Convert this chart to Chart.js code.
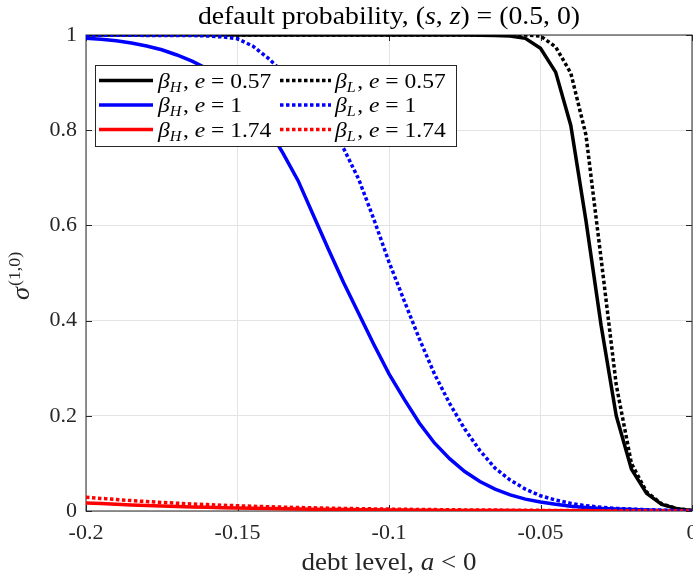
<!DOCTYPE html>
<html><head><meta charset="utf-8">
<script src="https://cdn.jsdelivr.net/npm/chart.js@4/dist/chart.umd.min.js"></script>
<style>html,body{margin:0;padding:0;background:#fff;} canvas{display:block;}</style>
</head><body>
<canvas id="c" width="693" height="577"></canvas>
<script>
// ---- data ----
const debtLevels = [-0.2,-0.195,-0.19,-0.185,-0.18,-0.175,-0.17,-0.165,-0.16,-0.155,
  -0.15,-0.145,-0.14,-0.135,-0.13,-0.125,-0.12,-0.115,-0.11,-0.105,
  -0.1,-0.095,-0.09,-0.085,-0.08,-0.075,-0.07,-0.065,-0.06,-0.055,
  -0.05,-0.045,-0.04,-0.035,-0.03,-0.025,-0.02,-0.015,-0.01,-0.005,0];

const sigmaHighE057 = [1,1,1,1,1,1,1,1,1,1, 1,1,1,1,1,1,1,1,1,1, 1,1,1,1,1,1,0.9995,0.999,0.998,0.993,
  0.972,0.922,0.81,0.61,0.39,0.2,0.088,0.037,0.014,0.005,0.001];
const sigmaHighE1 = [0.993,0.991,0.988,0.983,0.977,0.969,0.958,0.945,0.929,0.908,
  0.881,0.847,0.805,0.752,0.694,0.622,0.55,0.48,0.415,0.35,
  0.288,0.235,0.185,0.143,0.11,0.083,0.062,0.046,0.034,0.025,
  0.019,0.014,0.01,0.0075,0.0055,0.004,0.003,0.002,0.0012,0.0006,0.0002];
const sigmaHighE174 = [0.017,0.0155,0.014,0.0128,0.0116,0.0105,0.0095,0.0086,0.0078,0.007,
  0.0063,0.0057,0.0051,0.0046,0.0041,0.0037,0.0033,0.003,0.0027,0.0024,
  0.0021,0.0019,0.0017,0.0015,0.0013,0.0012,0.001,0.0009,0.0008,0.0007,
  0.0006,0.0005,0.0004,0.0003,0.00025,0.0002,0.00015,0.0001,0.00006,0.00003,0];
const sigmaLowE057 = [1,1,1,1,1,1,1,1,1,1, 1,1,1,1,1,1,1,1,1,1, 1,1,1,1,1,1,1,1,1,1,
  0.998,0.975,0.92,0.79,0.53,0.265,0.1,0.04,0.015,0.005,0.001];
const sigmaLowE1 = [0.9995,0.9995,0.9995,0.9995,0.999,0.999,0.999,0.999,0.998,0.996,
  0.992,0.977,0.952,0.922,0.889,0.852,0.81,0.762,0.697,0.613,
  0.523,0.442,0.362,0.288,0.226,0.172,0.127,0.09,0.065,0.046,
  0.032,0.023,0.016,0.011,0.008,0.0055,0.004,0.0028,0.0018,0.001,0.0003];
const sigmaLowE174 = [0.029,0.0265,0.024,0.0218,0.0198,0.018,0.0163,0.0148,0.0134,0.0121,
  0.011,0.0099,0.009,0.0081,0.0073,0.0066,0.006,0.0054,0.0049,0.0044,
  0.004,0.0036,0.0032,0.0029,0.0026,0.0023,0.0021,0.0019,0.0017,0.0015,
  0.0013,0.0011,0.001,0.0008,0.0007,0.0006,0.0005,0.0004,0.0003,0.0001,0];

const betaSubscripts = ['H','H','H','L','L','L'];
const eValues = ['0.57','1','1.74','0.57','1','1.74'];
const xTickLabels = ['-0.2','-0.15','-0.1','-0.05','0'];
const yTickLabels = ['0','0.2','0.4','0.6','0.8','1'];

// ---- styling ----
const SERIF = '"Liberation Serif", "Times New Roman", serif';
const AXIS_COLOR = '#262626';
const seriesValues = [sigmaHighE057, sigmaHighE1, sigmaHighE174, sigmaLowE057, sigmaLowE1, sigmaLowE174];
const seriesColors = ['#000000','#0000ff','#ff0000','#000000','#0000ff','#ff0000'];
const DOT = [3.5, 2.5];

const datasets = seriesValues.map((vals, i) => ({
  label: 'β' + betaSubscripts[i] + ', e = ' + eValues[i],
  data: debtLevels.map((a, k) => ({x: a, y: vals[k]})),
  borderColor: seriesColors[i],
  backgroundColor: seriesColors[i],
  borderWidth: 3.5,
  borderDash: i >= 3 ? DOT : [],
  borderCapStyle: 'butt',
  borderJoinStyle: 'miter',
  pointRadius: 0,
  tension: 0,
  fill: false,
  order: 6 - i
}));

// draws a run of roman/italic text pieces, optionally widened horizontally
function drawRich(ctx, segs, x, y, align, sx) {
  sx = sx || 1;
  let total = 0;
  const ms = segs.map(s => {
    ctx.font = (s.italic ? 'italic ' : '') + s.size + 'px ' + SERIF;
    const w = ctx.measureText(s.t).width;
    total += w + (s.gap || 0);
    return w;
  });
  ctx.save();
  ctx.translate(x, y);
  ctx.scale(sx, 1);
  let cx = align === 'center' ? -total / 2 : 0;
  segs.forEach((s, i) => {
    ctx.font = (s.italic ? 'italic ' : '') + s.size + 'px ' + SERIF;
    ctx.fillText(s.t, cx, s.dy || 0);
    cx += ms[i] + (s.gap || 0);
  });
  ctx.restore();
}

const decorPlugin = {
  id: 'decor',
  beforeDatasetsDraw(chart) {
    const {ctx, chartArea: ca, scales} = chart;
    ctx.save();
    ctx.strokeStyle = AXIS_COLOR;
    ctx.lineWidth = 1;
    ctx.strokeRect(ca.left, ca.top, ca.right - ca.left, ca.bottom - ca.top);
    const tl = 6;
    ctx.beginPath();
    scales.x.ticks.forEach(t => {
      const px = Math.round(scales.x.getPixelForValue(t.value)) + 0.5;
      ctx.moveTo(px, ca.bottom); ctx.lineTo(px, ca.bottom - tl);
      ctx.moveTo(px, ca.top); ctx.lineTo(px, ca.top + tl);
    });
    scales.y.ticks.forEach(t => {
      const py = Math.round(scales.y.getPixelForValue(t.value)) + 0.5;
      ctx.moveTo(ca.left, py); ctx.lineTo(ca.left + tl, py);
      ctx.moveTo(ca.right, py); ctx.lineTo(ca.right - tl, py);
    });
    ctx.stroke();
    ctx.restore();
  },
  afterDraw(chart) {
    const {ctx, chartArea: ca} = chart;
    ctx.save();
    ctx.textBaseline = 'alphabetic';
    const cx = (ca.left + ca.right) / 2;
    // title
    ctx.fillStyle = '#000';
    drawRich(ctx, [
      {t: 'default probability, (', size: 25},
      {t: 's', size: 25, italic: true},
      {t: ', ', size: 25},
      {t: 'z', size: 25, italic: true},
      {t: ') = (0.5, 0)', size: 25}
    ], cx, 24, 'center', 1.11);
    // x label
    ctx.fillStyle = AXIS_COLOR;
    drawRich(ctx, [
      {t: 'debt level, ', size: 25},
      {t: 'a', size: 25, italic: true},
      {t: ' < 0', size: 25}
    ], cx, 570, 'center', 1.08);
    // y label (rotated)
    ctx.save();
    ctx.translate(29, 300);
    ctx.rotate(-Math.PI / 2);
    drawRich(ctx, [
      {t: 'σ', size: 25, italic: true, gap: 1},
      {t: '(1,0)', size: 17, dy: -9}
    ], 0, 0, 'left', 1.05);
    ctx.restore();
    // legend
    const bx = 95.5, by = 65.5, bw = 361, bh = 81;
    ctx.fillStyle = '#fff';
    ctx.fillRect(bx, by, bw, bh);
    ctx.strokeStyle = AXIS_COLOR;
    ctx.lineWidth = 1;
    ctx.strokeRect(bx, by, bw, bh);
    const rowY = [80.5, 105, 129.5];
    const cols = [{ls: 99, le: 153, tx: 158}, {ls: 280, le: 331, tx: 335}];
    chart.data.datasets.forEach((ds, i) => {
      const c = cols[Math.floor(i / 3)], y = rowY[i % 3];
      ctx.strokeStyle = ds.borderColor;
      ctx.lineWidth = ds.borderWidth;
      ctx.lineCap = 'butt';
      ctx.setLineDash(ds.borderDash || []);
      ctx.beginPath(); ctx.moveTo(c.ls, y); ctx.lineTo(c.le, y); ctx.stroke();
      ctx.setLineDash([]);
      ctx.fillStyle = '#000';
      drawRich(ctx, [
        {t: 'β', size: 22, italic: true},
        {t: betaSubscripts[i], size: 15, italic: true, dy: 4, gap: 1.5},
        {t: ', ', size: 22},
        {t: 'e', size: 22, italic: true},
        {t: ' = ' + eValues[i], size: 22}
      ], c.tx, y + 7, 'left', 1.07);
    });
    ctx.restore();
  }
};

new Chart(document.getElementById('c').getContext('2d'), {
  type: 'line',
  data: {datasets},
  options: {
    responsive: false,
    animation: false,
    devicePixelRatio: 1,
    layout: {padding: {top: 35, right: 1, left: 0, bottom: 0}},
    plugins: {legend: {display: false}, title: {display: false}, tooltip: {enabled: false}},
    scales: {
      x: {
        type: 'linear', min: -0.2, max: 0,
        ticks: {
          stepSize: 0.05, autoSkip: false, maxRotation: 0, padding: 9,
          color: AXIS_COLOR, font: {family: SERIF, size: 22},
          callback: (v, idx) => xTickLabels[idx]
        },
        grid: {color: '#e4e4e4', lineWidth: 1, drawTicks: false},
        border: {display: false},
        afterFit: s => { s.height = 66; s.paddingLeft = 0; s.paddingRight = 0; }
      },
      y: {
        type: 'linear', min: 0, max: 1,
        ticks: {
          stepSize: 0.2, autoSkip: false, padding: 9,
          color: AXIS_COLOR, font: {family: SERIF, size: 22},
          callback: (v, idx) => yTickLabels[idx]
        },
        grid: {color: '#e4e4e4', lineWidth: 1, drawTicks: false},
        border: {display: false},
        afterFit: s => { s.width = 86; s.paddingTop = 0; s.paddingBottom = 0; }
      }
    }
  },
  plugins: [decorPlugin]
});
</script>
</body></html>
